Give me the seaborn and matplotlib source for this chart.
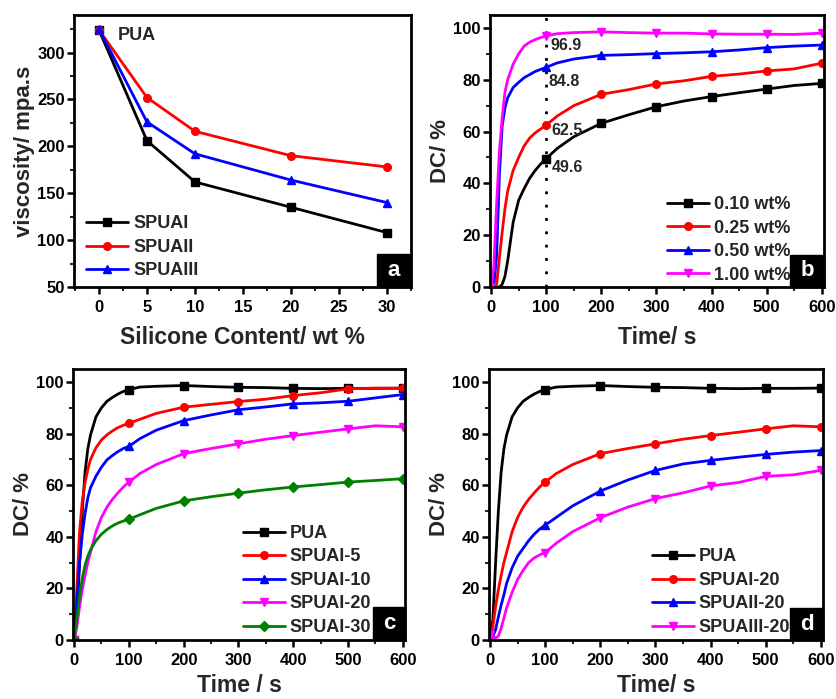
import numpy as np
import pandas as pd
import matplotlib
matplotlib.use("Agg")
import matplotlib.pyplot as plt
from matplotlib.lines import Line2D
from matplotlib.patches import Rectangle
from matplotlib.ticker import MultipleLocator
import seaborn as sns

# ---------------- data ----------------
# panel a
silicone = [0, 5, 10, 20, 30]
visc_I = [324, 206, 162, 135, 108]
visc_II = [324, 252, 216, 190, 178]
visc_III = [325, 226, 192, 164, 140]

# time grid (s) shared by panels b, c, d
time_s = [0, 5, 10, 15, 20, 25, 30, 40, 50, 60, 70, 80, 90, 100, 120, 150,
          200, 250, 300, 350, 400, 450, 500, 550, 600]

# panel b : photoinitiator content
dc_010 = [0, 0, 0, 0, 1, 4, 10, 25, 33.5, 38, 42, 45, 47.5, 49.6, 53.5, 58,
          63.2, 66.5, 69.6, 71.8, 73.5, 75, 76.4, 77.8, 78.6]
dc_025 = [0, 0, 1, 11, 21, 30, 37, 45, 50, 54.5, 57.5, 59.5, 61, 62.5, 66, 70,
          74.4, 76.2, 78.4, 79.6, 81.3, 82.2, 83.4, 84.2, 86.4]
dc_050 = [0, 1, 12, 43, 62, 69, 73, 77, 79, 80.8, 82, 83.2, 84, 84.8, 86.5, 88,
          89.4, 89.7, 90.1, 90.4, 90.8, 91.5, 92.4, 93, 93.4]
dc_100 = [0, 8, 32, 52, 65, 75, 80, 86, 90, 93, 94.5, 95.5, 96.3, 96.9, 97.8, 98.2,
          98.5, 98.2, 98, 98, 97.7, 97.6, 97.6, 97.5, 98]
b_notes = ["96.9", "84.8", "62.5", "49.6"]

# panels c, d
dc_PUA = [0, 8, 30, 50, 65, 74, 79.5, 86.5, 90, 92.5, 94, 95.3, 96.3, 97, 98, 98.3,
          98.6, 98.2, 97.9, 97.8, 97.5, 97.4, 97.5, 97.5, 97.6]
dc_I5 = [0, 20, 42, 54, 61, 66, 70, 74.5, 77.5, 79.5, 81, 82.3, 83.2, 84, 85.5, 87.8,
         90.2, 91.3, 92.4, 93.3, 94.7, 95.8, 97.3, 97.6, 97.5]
dc_I10 = [0, 14, 30, 41, 49, 55, 59, 63.5, 67, 69.8, 71.5, 73, 74.2, 75, 78, 81.3,
          85, 87.2, 89.2, 90.3, 91.5, 91.9, 92.5, 93.8, 95.1]
dc_I20 = [0, 5, 13, 19.5, 25, 30, 34, 42, 47.5, 51.5, 54.5, 57, 59.3, 61.2, 64.5, 68,
          72.2, 74.2, 76, 77.8, 79.2, 80.5, 81.8, 83, 82.6]
dc_I30 = [0, 8, 17, 24, 29, 32.5, 35, 38.5, 41, 42.8, 44.2, 45.3, 46.1, 46.8, 48.5, 51,
          53.9, 55.5, 56.9, 58.2, 59.3, 60.2, 61.2, 61.8, 62.5]
dc_II20 = [1, 1.5, 4, 9, 13.5, 17.5, 22, 28, 32.5, 35.5, 38.5, 41, 43, 44.5, 47.5, 52,
           57.7, 62, 65.7, 68.2, 69.6, 70.8, 71.9, 72.8, 73.4]
dc_III20 = [2, 1, 0.8, 1.5, 4.5, 8.5, 12.5, 18.5, 23.5, 27, 30, 31.8, 33, 33.9, 37.5, 42,
            47.4, 51.5, 54.8, 57, 59.7, 61, 63.4, 64, 65.7]

# ---------------- style ----------------
sns.set_style("ticks")
plt.rcParams['font.family'] = ['Liberation Sans', 'DejaVu Sans']
plt.rcParams['font.weight'] = 'bold'
plt.rcParams['axes.labelweight'] = 'bold'

BLACK, RED, BLUE, MAG, GREEN = "#000000", "#ff0000", "#0000ff", "#ff00ff", "#008000"
LW, MS = 2.0, 5.5

fig = plt.figure(figsize=(8.37, 6.99), dpi=100)
W, H = 837, 699


def add_ax(l, t, r, b):
    return fig.add_axes([l / W, 1 - b / H, (r - l) / W, (b - t) / H])


def style(ax):
    for s in ["top", "right"]:
        ax.spines[s].set_visible(True)
    for s in ax.spines.values():
        s.set_linewidth(2.0)
        s.set_color("black")
    ax.tick_params(which="major", direction="out", length=5, width=1.8,
                   labelsize=12, colors="black", top=False, right=False)
    ax.tick_params(which="minor", direction="out", length=3, width=1.5,
                   top=False, right=False)
    ax.tick_params(axis="x", which="major", pad=4.5)
    ax.tick_params(axis="y", which="major", pad=1.5)


def panel_tag(ax, letter, x0, h):
    ax.add_patch(Rectangle((x0, 0), 1 - x0, h, transform=ax.transAxes,
                           facecolor="black", edgecolor="black", zorder=6, clip_on=False))
    ax.text(x0 + (1 - x0) / 2, h / 2, letter, transform=ax.transAxes, color="white",
            fontsize=16, fontweight="bold", ha="center", va="center", zorder=7)


def series(ax, x, y, color, marker, every=None):
    kw = dict(color=color, marker=marker, markersize=MS, linewidth=LW,
              markeredgecolor=color, markerfacecolor=color, markeredgewidth=1)
    if every is not None:
        kw["markevery"] = every
    sns.lineplot(x=np.asarray(x, float), y=np.asarray(y, float), ax=ax,
                 estimator=None, sort=False, legend=False, **kw)


def legend(ax, items, anchor):
    handles = [Line2D([0], [0], color=c, marker=m, lw=LW, ms=MS, mec=c, mfc=c)
               for _, c, m in items]
    ax.legend(handles, [lab for lab, _, _ in items], loc="lower left",
              bbox_to_anchor=anchor, frameon=False, fontsize=13,
              handlelength=2.3, handletextpad=0.3, labelspacing=0.36,
              borderpad=0, borderaxespad=0, numpoints=1)


mk_idx = [i for i, t in enumerate(time_s) if t % 100 == 0]
XL, YL = 16.5, 16

# ---------------- panel a ----------------
axa = add_ax(74, 15, 411, 287)
series(axa, silicone, visc_I, BLACK, "s")
series(axa, silicone, visc_II, RED, "o")
series(axa, silicone, visc_III, BLUE, "^")
axa.set_xlim(-2.6, 32.5)
axa.set_ylim(50, 340)
axa.xaxis.set_major_locator(MultipleLocator(5))
axa.xaxis.set_minor_locator(MultipleLocator(2.5))
axa.yaxis.set_major_locator(MultipleLocator(50))
axa.yaxis.set_minor_locator(MultipleLocator(25))
style(axa)
axa.set_xlabel("Silicone Content/ wt %", fontsize=XL, labelpad=8)
axa.set_ylabel("viscosity/ mpa.s", fontsize=YL, labelpad=2)
axa.text(2.0, 318.5, "PUA", fontsize=13, fontweight="bold", ha="left", va="center")
legend(axa, [("SPUAI", BLACK, "s"), ("SPUAII", RED, "o"), ("SPUAIII", BLUE, "^")],
       (0.036, 0.028))
panel_tag(axa, "a", 0.899, 0.121)

# ---------------- panel b ----------------
axb = add_ax(490, 15, 824, 287)
axb.axvline(100, color="black", lw=2, linestyle=(0, (1, 3.8)), zorder=1)
series(axb, time_s, dc_010, BLACK, "s", mk_idx)
series(axb, time_s, dc_025, RED, "o", mk_idx)
series(axb, time_s, dc_050, BLUE, "^", mk_idx)
series(axb, time_s, dc_100, MAG, "v", mk_idx)
note_pos = [(107, 93.2), (104, 79.5), (110, 60.6), (110, 46.0)]
for txt, (x, y) in zip(b_notes, note_pos):
    axb.text(x, y, txt, fontsize=11.5, fontweight="bold", ha="left", va="center")
legend(axb, [("0.10 wt%", BLACK, "s"), ("0.25 wt%", RED, "o"),
             ("0.50 wt%", BLUE, "^"), ("1.00 wt%", MAG, "v")], (0.53, 0.012))
panel_tag(axb, "b", 0.898, 0.118)

# ---------------- panel c ----------------
axc = add_ax(73, 369, 405, 640)
series(axc, time_s, dc_PUA, BLACK, "s", mk_idx)
series(axc, time_s, dc_I5, RED, "o", mk_idx)
series(axc, time_s, dc_I10, BLUE, "^", mk_idx)
series(axc, time_s, dc_I20, MAG, "v", mk_idx)
series(axc, time_s, dc_I30, GREEN, "D", mk_idx)
legend(axc, [("PUA", BLACK, "s"), ("SPUAI-5", RED, "o"), ("SPUAI-10", BLUE, "^"),
             ("SPUAI-20", MAG, "v"), ("SPUAI-30", GREEN, "D")], (0.512, 0.015))
panel_tag(axc, "c", 0.903, 0.123)

# ---------------- panel d ----------------
axd = add_ax(489, 369, 823, 640)
series(axd, time_s, dc_PUA, BLACK, "s", mk_idx)
series(axd, time_s, dc_I20, RED, "o", mk_idx)
series(axd, time_s, dc_II20, BLUE, "^", mk_idx)
series(axd, time_s, dc_III20, MAG, "v", mk_idx)
legend(axd, [("PUA", BLACK, "s"), ("SPUAI-20", RED, "o"), ("SPUAII-20", BLUE, "^"),
             ("SPUAIII-20", MAG, "v")], (0.488, 0.015))
panel_tag(axd, "d", 0.901, 0.118)

for ax, xl, lp in [(axb, "Time/ s", 8), (axc, "Time / s", 4), (axd, "Time/ s", 4)]:
    ax.set_xlim(-2, 604)
    ax.set_ylim(0, 105)
    ax.xaxis.set_major_locator(MultipleLocator(100))
    ax.xaxis.set_minor_locator(MultipleLocator(50))
    ax.yaxis.set_major_locator(MultipleLocator(20))
    ax.yaxis.set_minor_locator(MultipleLocator(10))
    style(ax)
    ax.set_xlabel(xl, fontsize=XL, labelpad=lp)
    ax.set_ylabel("DC/ %", fontsize=YL, labelpad=2)

fig.savefig("out.png", dpi=100)
